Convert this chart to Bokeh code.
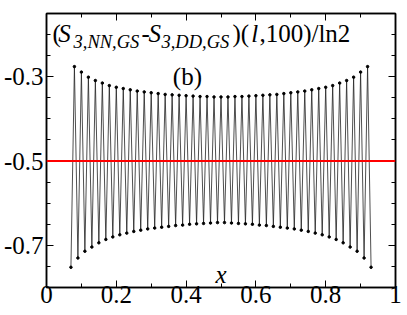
from bokeh.plotting import figure
from bokeh.models import FixedTicker, LinearAxis, Span, Label, ColumnDataSource
from bokeh.embed import file_html
from bokeh.resources import INLINE

# ---- data ----
l_vals = list(range(7, 94))
L_size = 100
dS = [
    -0.752, -0.276, -0.730, -0.289, -0.714, -0.301, -0.704, -0.309, -0.694, -0.315,
    -0.686, -0.321, -0.680, -0.325, -0.675, -0.328, -0.671, -0.331, -0.667, -0.334,
    -0.664, -0.336, -0.661, -0.338, -0.659, -0.340, -0.657, -0.342, -0.655, -0.343,
    -0.653, -0.344, -0.652, -0.345, -0.650, -0.346, -0.649, -0.347, -0.648, -0.347,
    -0.647, -0.348, -0.646, -0.348, -0.646, -0.348, -0.647, -0.347, -0.648, -0.347,
    -0.649, -0.346, -0.650, -0.345, -0.652, -0.344, -0.653, -0.343, -0.655, -0.342,
    -0.657, -0.340, -0.659, -0.338, -0.661, -0.336, -0.664, -0.334, -0.667, -0.331,
    -0.671, -0.328, -0.675, -0.325, -0.680, -0.321, -0.686, -0.315, -0.694, -0.309,
    -0.704, -0.301, -0.714, -0.289, -0.730, -0.276, -0.752,
]
ref_level = -0.5
x_ticks = [0, 0.2, 0.4, 0.6, 0.8, 1]
x_tick_labels = ["0", "0.2", "0.4", "0.6", "0.8", "1"]
x_minor = [0.1, 0.3, 0.5, 0.7, 0.9]
y_ticks = [-0.7, -0.5, -0.3]
y_tick_labels = ["-0.7", "-0.5", "-0.3"]
y_minor = [-0.8, -0.75, -0.65, -0.6, -0.55, -0.45, -0.4, -0.35, -0.25, -0.2, -0.15]

x = [l / L_size for l in l_vals]
src = ColumnDataSource(dict(x=x, y=dS))

FONT = "Liberation Serif"

p = figure(width=407, height=315, x_range=(0, 1), y_range=(-0.8, -0.15),
           output_backend="svg", toolbar_location=None,
           x_axis_location=None, y_axis_location=None,
           min_border_left=46, min_border_right=12, min_border_top=13, min_border_bottom=28)
p.grid.visible = False
p.background_fill_color = "white"
p.border_fill_color = "white"
p.outline_line_color = "black"
p.outline_line_width = 1.5

xt = FixedTicker(ticks=x_ticks, minor_ticks=x_minor)
yt = FixedTicker(ticks=y_ticks, minor_ticks=y_minor)


def style(ax):
    ax.axis_line_color = "black"
    ax.axis_line_width = 1.5
    ax.major_tick_in = 7
    ax.major_tick_out = 0
    ax.minor_tick_in = 4
    ax.minor_tick_out = 0
    ax.major_tick_line_width = 1
    ax.minor_tick_line_width = 1
    ax.major_label_text_font = FONT
    ax.major_label_text_color = "black"


xb = LinearAxis(ticker=xt)
style(xb)
xb.major_label_overrides = {t: s for t, s in zip(x_ticks, x_tick_labels)}
xb.major_label_text_font_size = "25px"
xb.major_label_standoff = -2
p.add_layout(xb, "below")

xa = LinearAxis(ticker=xt)
style(xa)
xa.major_label_overrides = {t: "" for t in x_ticks}
xa.major_label_text_font_size = "8px"
xa.major_label_standoff = 0
p.add_layout(xa, "above")

yl = LinearAxis(ticker=yt)
style(yl)
yl.major_label_overrides = {t: s for t, s in zip(y_ticks, y_tick_labels)}
yl.major_label_text_font_size = "25px"
yl.major_label_standoff = 3
p.add_layout(yl, "left")

yr = LinearAxis(ticker=yt)
style(yr)
yr.major_label_overrides = {t: "" for t in y_ticks}
yr.major_label_text_font_size = "8px"
yr.major_label_standoff = 0
p.add_layout(yr, "right")

p.add_layout(Span(location=ref_level, dimension="width", line_color="#ff0000", line_width=2))

p.line("x", "y", source=src, line_color="#222222", line_width=0.8)
p.scatter("x", "y", source=src, size=2.5, color="black")

# title pieces (x, y in data units; left-aligned, alphabetic baseline)
base = -0.198
sub = -0.217
pieces = [
    (0.0172, base, "(", "normal", "25px"),
    (0.034, base, "S", "italic", "25px"),
    (0.0774, sub, "3,NN,GS", "italic", "18.5px"),
    (0.272, base, "-", "normal", "25px"),
    (0.292, base, "S", "italic", "25px"),
    (0.3295, sub, "3,DD,GS", "italic", "18.5px"),
    (0.533, base, ")(", "normal", "25px"),
    (0.587, base, "l", "italic", "25px"),
    (0.610, base, ",100)/ln2", "normal", "25px"),
    (0.362, -0.300, "(b)", "normal", "25px"),
    (0.484, -0.769, "x", "italic", "25px"),
]
for px_, py_, t, st, sz in pieces:
    p.add_layout(Label(x=px_, y=py_, text=t, text_font=FONT, text_font_style=st,
                       text_font_size=sz, text_baseline="alphabetic", text_align="left",
                       text_color="black"))

open("out.html", "w").write(file_html(p, INLINE))
